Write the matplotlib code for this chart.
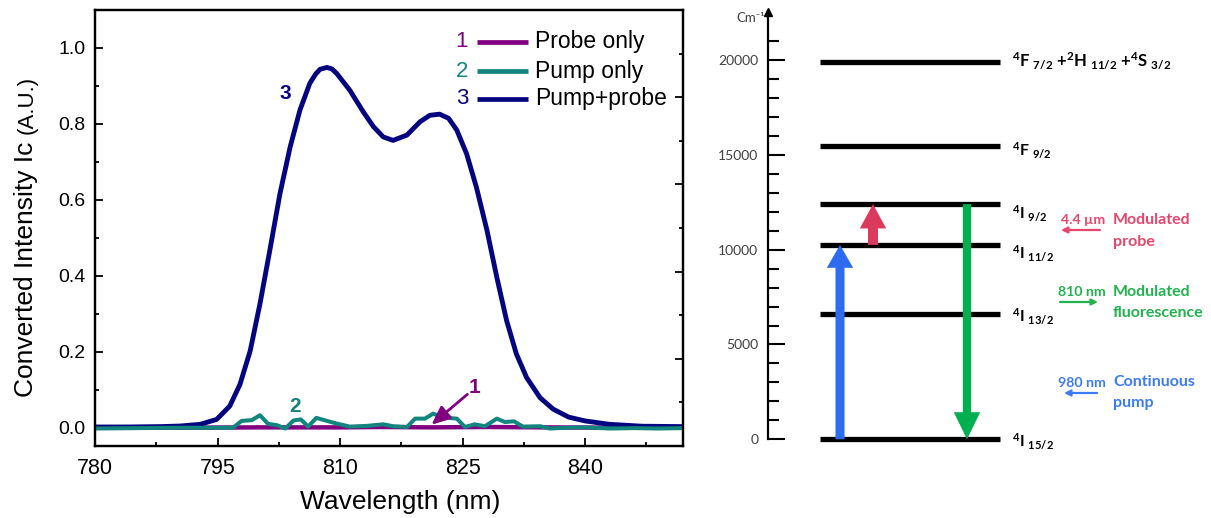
import matplotlib
matplotlib.use("Agg")
import matplotlib.pyplot as plt
from matplotlib.patches import FancyArrowPatch
from matplotlib.ticker import MultipleLocator, FixedLocator, NullFormatter

# ---------------- data ----------------
series_names = ["Probe only", "Pump only", "Pump+probe"]
series_ids = ["1", "2", "3"]
series_colors = ["#800080", "#11857E", "#050580"]

wl_probe = [780, 790, 800, 810, 815, 821, 828, 835, 845, 852]
ic_probe = [0.000, 0.000, 0.001, 0.001, 0.002, 0.001, 0.002, 0.001, 0.000, 0.000]

wl_pump = [780, 785, 790.4, 796.9, 797.95, 799.2, 800.2, 801.2, 802.25, 803.3, 804.3,
           805.2, 806.1, 807.1, 808.4, 809.6, 811.2, 813.3, 815.3, 816.5, 818.2,
           819.2, 820.4, 821.4, 822.65, 824.3, 825.3, 826.5, 827.75, 829.2, 830.2,
           831.3, 832.4, 834.5, 835.7, 837.5, 840, 843, 846, 849, 852]
ic_pump = [-0.002, -0.001, 0.000, 0.000, 0.018, 0.020, 0.033, 0.010, 0.007, -0.002, 0.019,
           0.022, 0.003, 0.026, 0.018, 0.011, 0.003, 0.005, 0.009, 0.004, 0.002,
           0.024, 0.024, 0.037, 0.027, 0.024, 0.002, 0.009, 0.004, 0.024, 0.015,
           0.017, 0.003, 0.004, -0.002, 0.000, 0.001, -0.002, -0.001, -0.002, -0.001]

wl_both = [780, 784, 788, 790.4, 792.9, 794.9, 796.5, 797.75, 799.0, 800.2, 801.4,
           802.65, 803.9, 805.1, 806.3, 807.0, 807.55, 808.4, 809.0, 809.6, 811.2, 812.85, 814.1,
           815.3, 816.5, 818.2, 819.8, 821.0, 822.2, 823.3, 824.3, 825.5, 826.7,
           828.0, 829.2, 830.4, 831.6, 832.85, 834.5, 836.1, 838.0, 840.0, 843.0,
           847.0, 852.0]
ic_both = [0.002, 0.002, 0.003, 0.0045, 0.009, 0.022, 0.057, 0.114, 0.202, 0.326, 0.466,
           0.616, 0.739, 0.836, 0.906, 0.930, 0.943, 0.948, 0.944, 0.932, 0.888, 0.831, 0.792,
           0.765, 0.756, 0.770, 0.805, 0.822, 0.825, 0.814, 0.783, 0.721, 0.633,
           0.519, 0.396, 0.282, 0.194, 0.132, 0.079, 0.049, 0.028, 0.018, 0.009,
           0.004, 0.003]

x_ticks = [780, 795, 810, 825, 840]
y_ticks = [0.0, 0.2, 0.4, 0.6, 0.8, 1.0]
y_ticklabels = ["0.0", "0.2", "0.4", "0.6", "0.8", "1.0"]

# energy diagram data
level_E = [19900, 15450, 12400, 10250, 6600, 0]
level_labels = [r"$^{4}$F $_{7/2}$ +$^{2}$H $_{11/2}$ +$^{4}$S $_{3/2}$",
                r"$^{4}$F $_{9/2}$", r"$^{4}$I $_{9/2}$", r"$^{4}$I $_{11/2}$",
                r"$^{4}$I $_{13/2}$", r"$^{4}$I $_{15/2}$"]
energy_ticks = [0, 5000, 10000, 15000, 20000]
pump_from, pump_to = 0, 10250
probe_from, probe_to = 10250, 12400
fluo_from, fluo_to = 12400, 0

plt.rcParams['font.family'] = ['Liberation Sans', 'DejaVu Sans']
plt.rcParams['mathtext.fontset'] = 'custom'
plt.rcParams['mathtext.rm'] = 'Lato:bold'
plt.rcParams['mathtext.it'] = 'Lato:bold'
plt.rcParams['mathtext.bf'] = 'Lato:bold'
plt.rcParams['mathtext.sf'] = 'Lato:bold'

W, H = 1211, 518
fig = plt.figure(figsize=(W / 100, H / 100), dpi=100)

def fx(px):
    return px / W

def fy(py):
    return (H - py) / H

# ---------------- left: spectrum ----------------
ax = fig.add_axes([fx(95), fy(446), fx(683) - fx(95), fy(10) - fy(446)])
ax.set_xlim(780, 852)
ax.set_ylim(-0.048, 1.099)

ax.plot(wl_probe, ic_probe, color=series_colors[0], lw=3.2, zorder=2, solid_joinstyle='round')
ax.plot(wl_both, ic_both, color=series_colors[2], lw=3.5, zorder=3, solid_joinstyle='round')
ax.plot(wl_pump, ic_pump, color=series_colors[1], lw=2.9, zorder=4, solid_joinstyle='round')

for s in ax.spines.values():
    s.set_linewidth(1.6)
ax.xaxis.set_major_locator(FixedLocator(x_ticks))
ax.xaxis.set_minor_locator(MultipleLocator(7.5))
ax.set_yticks(y_ticks)
ax.set_yticklabels(y_ticklabels)
ax.yaxis.set_minor_locator(MultipleLocator(0.1))
ax.tick_params(which='both', direction='in', top=False, right=False, width=1.3)
ax.tick_params(which='major', length=6)
ax.tick_params(which='minor', length=3.2)
ax.tick_params(axis='x', labelsize=15.5, pad=9)
ax.tick_params(axis='y', labelsize=14, pad=7)

axr = ax.twinx()
axr.set_ylim(0, 1.0)
axr.yaxis.set_major_locator(MultipleLocator(0.2))
axr.yaxis.set_minor_locator(MultipleLocator(0.1))
axr.yaxis.set_major_formatter(NullFormatter())
axr.tick_params(which='both', direction='in', width=1.3)
axr.tick_params(which='major', length=6)
axr.tick_params(which='minor', length=3.2)
for s in axr.spines.values():
    s.set_linewidth(1.6)

ax.set_xlabel("Wavelength (nm)", fontsize=19)
ax.xaxis.label.set_va('center')
ax.xaxis.set_label_coords((400 - 95) / 588, (446 - 502) / 436)

# y label in two sizes
t1 = fig.text(fx(33), fy(397), "Converted Intensity Ic ", fontsize=19, rotation=90,
              rotation_mode='anchor', ha='left', va='baseline')
fig.canvas.draw()
bb = t1.get_window_extent()
fig.text(fx(33), bb.y1 / H, "(A.U.)", fontsize=16, rotation=90,
         rotation_mode='anchor', ha='left', va='baseline')

# legend (manual, numbered)
leg_y = [0.927, 0.860, 0.796]
for i in range(3):
    ax.text(0.624, leg_y[i], series_ids[i], transform=ax.transAxes, color=series_colors[i],
            fontsize=16, ha='center', va='center')
    ax.plot([0.650, 0.736], [leg_y[i], leg_y[i]], transform=ax.transAxes,
            color=series_colors[i], lw=3.4, solid_capstyle='butt')
    ax.text(0.748, leg_y[i], series_names[i], transform=ax.transAxes, color='black',
            fontsize=16.5, ha='left', va='center')

# curve annotations
ax.text(803.3, 0.880, "3", color=series_colors[2], fontsize=15, fontweight='bold',
        ha='center', va='center')
ax.text(804.5, 0.057, "2", color=series_colors[1], fontsize=15, fontweight='bold',
        ha='center', va='center')
ax.text(826.5, 0.105, "1", color=series_colors[0], fontsize=15, fontweight='bold',
        ha='center', va='center')
ax.annotate("", xy=(821.2, 0.008), xytext=(825.6, 0.088),
            arrowprops=dict(arrowstyle='-|>,head_length=0.8,head_width=0.35',
                            color=series_colors[0], lw=2.0,
                            mutation_scale=14, shrinkA=0, shrinkB=0), zorder=6)

# ---------------- right: energy diagram ----------------
ax_px = 768
scale = 0.018965  # pixel per cm-1
zero_px = 439.3
ax2 = fig.add_axes([fx(ax_px), 0, 1 - fx(ax_px), 1])
ax2.set_xlim(0, W - ax_px)
ax2.set_ylim(-(H - zero_px) / scale, zero_px / scale)
ax2.patch.set_alpha(0)
for k in ['right', 'top', 'bottom']:
    ax2.spines[k].set_visible(False)
ax2.spines['left'].set_linewidth(1.6)
ax2.spines['left'].set_bounds(0, 22300)
ax2.set_xticks([])
ax2.set_yticks(energy_ticks)
ax2.set_yticklabels([str(v) for v in energy_ticks])
ax2.yaxis.set_minor_locator(FixedLocator([v for v in range(1000, 21001, 1000) if v % 5000]))
ax2.tick_params(axis='y', which='both', direction='in', width=1.5, colors='black',
                labelcolor='#404040', labelsize=10, pad=7)
ax2.tick_params(axis='y', which='major', length=12.5)
ax2.tick_params(axis='y', which='minor', length=7.8)
for lab in ax2.get_yticklabels():
    lab.set_family(['Lato', 'DejaVu Sans'])
ax2.plot([0], [22550], marker='^', ms=6, color='black', clip_on=False)
ax2.text(-3, 22230, "Cm⁻¹", fontsize=9.5, color='#404040', ha='right', va='center',
         family=['Lato', 'DejaVu Sans'])

# levels
label_off_px = [4, 9.3, 14, 13.2, 7, 7.4]
label_sizes = [12, 11.5, 11.5, 11.5, 11.5, 11.5]
for E, lab, off, fs in zip(level_E, level_labels, label_off_px, label_sizes):
    ax2.plot([52, 232], [E, E], color='black', lw=3.8, solid_capstyle='butt', zorder=3)
    ax2.annotate(lab, xy=(244, E), xytext=(0, -off * 0.72), textcoords='offset points',
                 fontsize=fs, fontweight='bold', family=['Lato', 'DejaVu Sans'],
                 ha='left', va='baseline', color='black')

def big_arrow(x, e0, e1, color, hl, hw, tw):
    ax2.annotate("", xy=(x, e1), xytext=(x, e0),
                 arrowprops=dict(arrowstyle=f"simple,head_length={hl},head_width={hw},tail_width={tw}",
                                 mutation_scale=10, color=color, lw=0, shrinkA=0, shrinkB=0),
                 zorder=4)

big_arrow(72, pump_from, pump_to, '#2D6CF0', 1.65, 1.9, 0.65)
big_arrow(105, probe_from, probe_to, '#DC3A5C', 1.75, 1.9, 0.72)
big_arrow(199, fluo_from, fluo_to, '#00B050', 1.95, 1.9, 0.6)

# side notes
pink, green, blue = '#E8456B', '#22B24F', '#3D7BF5'
def note(x, y, s, c, size):
    fig.text(fx(x), fy(y), s, color=c, fontsize=size, ha='left', va='center',
             family=['Lato', 'DejaVu Sans'], fontweight='bold')

note(1061, 220, "4.4 µm", pink, 10.2)
note(1113, 220, "Modulated", pink, 11.5)
note(1113, 242, "probe", pink, 11.5)
note(1058, 292, "810 nm", green, 10.2)
note(1113, 292, "Modulated", green, 11.5)
note(1113, 313, "fluorescence", green, 11.5)
note(1058, 383, "980 nm", blue, 10.2)
note(1113, 382, "Continuous", blue, 11.5)
note(1113, 403, "pump", blue, 11.5)

def small_arrow(x0, x1, y, c):
    fig.add_artist(FancyArrowPatch(
        (fx(x0), fy(y)), (fx(x1), fy(y)), transform=fig.transFigure,
        arrowstyle='-|>', mutation_scale=9, color=c, lw=1.6, shrinkA=0, shrinkB=0))

small_arrow(1100, 1061, 230, pink)
small_arrow(1060, 1098, 302, green)
small_arrow(1097, 1064, 393, blue)

fig.savefig("out.png", dpi=100)
